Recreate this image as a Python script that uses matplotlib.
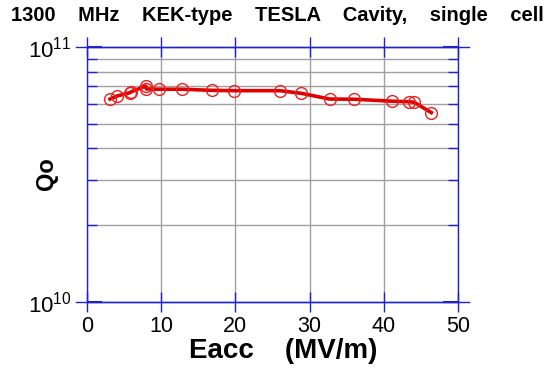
import matplotlib
matplotlib.use('Agg')
import matplotlib.pyplot as plt
from matplotlib.ticker import FixedLocator, NullFormatter

# accelerating gradient (MV/m) and quality factor of the cavity
eacc = [3.1, 4.1, 5.8, 6.0, 7.9, 8.0, 9.7, 12.8, 16.9, 19.8, 26.0, 28.9,
        32.7, 36.0, 41.1, 43.4, 44.1, 46.4]
q0 = [6.25e10, 6.43e10, 6.62e10, 6.68e10, 7.03e10, 6.85e10, 6.83e10, 6.83e10,
      6.76e10, 6.74e10, 6.74e10, 6.58e10, 6.25e10, 6.24e10, 6.13e10, 6.10e10,
      6.07e10, 5.53e10]

x_ticks = [0, 10, 20, 30, 40, 50]
y_major = [1e10, 1e11]
y_minor = [k * 1e10 for k in range(2, 10)]

plt.rcParams['font.family'] = ['Liberation Sans', 'DejaVu Sans']
frame = '#2222cc'

fig = plt.figure(figsize=(5.54, 3.68), dpi=100)
ax = fig.add_axes([0.157, 0.1793, 0.6697, 0.693])

ax.set_yscale('log')
ax.set_xlim(0, 50)
ax.set_ylim(1e10, 1e11)

ax.xaxis.set_major_locator(FixedLocator(x_ticks))
ax.yaxis.set_major_locator(FixedLocator(y_major))
ax.yaxis.set_minor_locator(FixedLocator(y_minor))
ax.yaxis.set_minor_formatter(NullFormatter())
ax.set_yticklabels([r'$\mathregular{10^{10}}$', r'$\mathregular{10^{11}}$'])

ax.grid(True, which='major', axis='x', color='#a0a0a0', linewidth=1)
ax.grid(True, which='minor', axis='y', color='#a0a0a0', linewidth=1)

for side in ['left', 'right', 'top', 'bottom']:
    ax.spines[side].set_color(frame)
    ax.spines[side].set_linewidth(1)

ax.tick_params(axis='x', which='major', direction='inout', length=14, width=1,
               color=frame, top=True, labelsize=15.5, pad=3)
ax.tick_params(axis='y', which='major', direction='in', length=11, width=1.5,
               color=frame, right=True, labelsize=16, pad=11)
ax.tick_params(axis='y', which='minor', direction='in', length=7, width=1,
               color=frame, right=True)

# top and bottom frame lines overshoot the sides a little
for yy in [0, 1]:
    ax.plot([-0.03, 1.03], [yy, yy], transform=ax.transAxes, color=frame,
            linewidth=1, clip_on=False, zorder=5)

ax.plot(eacc, q0, color='#e00000', linewidth=2.6, marker='o', markersize=8.5,
        markerfacecolor='none', markeredgecolor='#e82020', markeredgewidth=1,
        zorder=4)

fig.text(0.02, 0.959,
         '1300    MHz    KEK-type    TESLA    Cavity,    single    cell',
         fontsize=14.5, fontweight='bold', va='center', ha='left')
ax.set_xlabel('Eacc    (MV/m)', fontsize=20, fontweight='bold', va='center')
ax.xaxis.set_label_coords(0.528, -0.192)
ax.set_ylabel('Qo', fontsize=17, fontweight='bold', va='center')
ax.yaxis.set_label_coords(-0.11, 0.502)

plt.savefig('out.png', dpi=100)
